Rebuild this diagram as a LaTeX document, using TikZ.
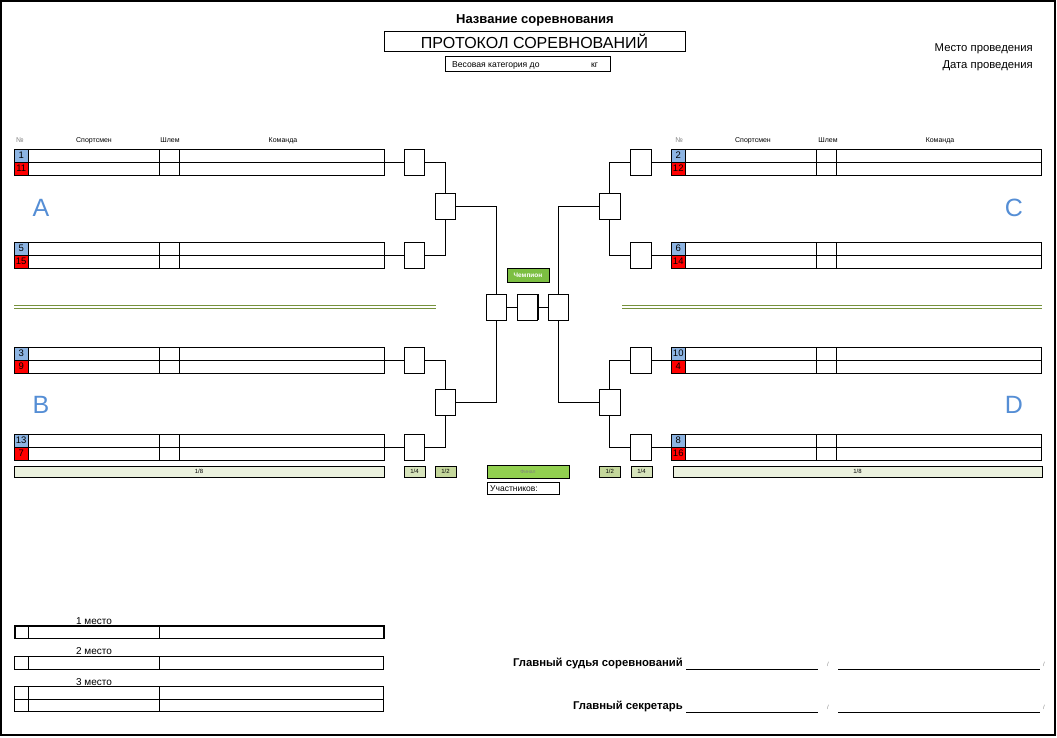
\documentclass[tikz,border=0pt]{standalone}
\usepackage{fontspec}
\setmainfont{Liberation Sans}
\definecolor{numblue}{HTML}{8DB4E2}
\definecolor{numred}{HTML}{FF0000}
\definecolor{grpblue}{HTML}{558ED5}
\definecolor{olive}{HTML}{76923C}
\definecolor{g18}{HTML}{EBF1DE}
\definecolor{g14}{HTML}{D7E4BC}
\definecolor{g12}{HTML}{C4D79B}
\definecolor{gfin}{HTML}{92D050}
\definecolor{gchamp}{HTML}{7CBF42}
\newcommand\fs[1]{\fontsize{#1}{#1}\selectfont}
\tikzset{
  line/.style={line width=1pt},
  frame/.style={draw, line width=1pt, inner sep=0pt, outer sep=0pt},
  mbox/.style={frame, fill=white, minimum width=20.5pt, minimum height=26pt, anchor=north west},
  numcell/.style={frame, minimum width=14.5pt, minimum height=13pt, font=\fs{9.5}},
  hdr/.style={inner sep=0pt, anchor=base, font=\fs{7}},
  grp/.style={inner sep=0pt, text=grpblue, font=\fs{25}},
  stagebar/.style={frame, anchor=north west, minimum height=11.5pt, font=\fs{6}},
  txt/.style={inner sep=0pt},
  sigline/.style={line width=0.8pt},
}
\newcommand\pairrow[5]{%
  \node[frame, anchor=north west, minimum width=370pt, minimum height=26pt] (#1) at (#2,#3) {};
  \draw[line] (#1.west) -- (#1.east);
  \draw[line] (#2+145.5,#3) -- (#2+145.5,#3+26);
  \draw[line] (#2+165.5,#3) -- (#2+165.5,#3+26);
  \node[numcell, fill=numblue, anchor=north west] (#1a) at (#2,#3) {#4};
  \node[numcell, fill=numred, anchor=north west] (#1b) at (#2,#3+13) {#5};
}
\newcommand\podrow[3]{% name, y, line width
  \node[draw, line width=#3, inner sep=0pt, anchor=north west, minimum width=369pt, minimum height=12.5pt] (#1) at (14,#2) {};
  \draw[line] (28,#2) -- (28,#2+12.5);
  \draw[line] (159,#2) -- (159,#2+12.5);
}
\begin{document}
\begin{tikzpicture}[x=1pt,y=-1pt]
\useasboundingbox (0,0) rectangle (1057,737);
\draw[line width=1.3pt] (1,1) rectangle (1055,735);

% titles
\node[txt, font=\bfseries\fs{13}] (title) at (535,20.5) {Название соревнования};
\node[frame, minimum width=301pt, minimum height=20pt, font=\fs{16}] (proto) at (534.5,41) {ПРОТОКОЛ СОРЕВНОВАНИЙ};
\node[frame, minimum width=165pt, minimum height=15pt] (weight) at (527.5,63.5) {};
\node[txt, font=\fs{8.6}, anchor=west] (wtxt) at (452,65) {Весовая категория до};
\node[txt, font=\fs{8.6}, anchor=west] (kg) at (591,65) {кг};
\node[txt, font=\fs{11.3}, anchor=east] (place) at (1033,48.5) {Место проведения};
\node[txt, font=\fs{11.3}, anchor=east] (date) at (1033,65.5) {Дата проведения};

% headers
\node[hdr, text=gray] (hLn) at (20,142) {№};
\node[hdr] (hLs) at (94,142) {Спортсмен};
\node[hdr] (hLh) at (170,142) {Шлем};
\node[hdr] (hLk) at (283,142) {Команда};
\node[hdr, text=gray] (hRn) at (679,142) {№};
\node[hdr] (hRs) at (753,142) {Спортсмен};
\node[hdr] (hRh) at (828,142) {Шлем};
\node[hdr] (hRk) at (940,142) {Команда};

% rows
\pairrow{A1}{14}{149}{1}{11}
\pairrow{A2}{14}{242}{5}{15}
\pairrow{B1}{14}{347}{3}{9}
\pairrow{B2}{14}{434}{13}{7}
\pairrow{C1}{671}{149}{2}{12}
\pairrow{C2}{671}{242}{6}{14}
\pairrow{D1}{671}{347}{10}{4}
\pairrow{D2}{671}{434}{8}{16}

% group letters
\node[grp] (gA) at (41,208) {A};
\node[grp] (gB) at (41,405) {B};
\node[grp] (gC) at (1014,208) {C};
\node[grp] (gD) at (1014,405) {D};

% green separators
\draw[olive, line width=1.1pt] (14,305.8) -- (436,305.8) (14,308.6) -- (436,308.6);
\draw[olive, line width=1.1pt] (622,305.8) -- (1042,305.8) (622,308.6) -- (1042,308.6);

% quarter boxes
\node[mbox] (qA1) at (404,149) {};
\node[mbox] (qA2) at (404,242) {};
\node[mbox] (qB1) at (404,347) {};
\node[mbox] (qB2) at (404,434) {};
\node[mbox] (qC1) at (630.5,149) {};
\node[mbox] (qC2) at (630.5,242) {};
\node[mbox] (qD1) at (630.5,347) {};
\node[mbox] (qD2) at (630.5,434) {};
% semi boxes
\node[mbox] (sA) at (435,193) {};
\node[mbox] (sB) at (435,389) {};
\node[mbox] (sC) at (599.5,193) {};
\node[mbox] (sD) at (599.5,389) {};
% final boxes
\node[mbox] (fL) at (486,294) {};
\node[mbox] (fM) at (517,294) {};
\node[mbox] (fR) at (548,294) {};
\draw[line width=2pt] (fM.north east) -- (fM.south east);

% connectors
\foreach \r in {A1,A2,B1,B2}{\draw[line] (\r.east) -- (q\r.west);}
\foreach \r in {C1,C2,D1,D2}{\draw[line] (\r.west) -- (q\r.east);}
\draw[line] (qA1.east) -| (sA.north);
\draw[line] (qA2.east) -| (sA.south);
\draw[line] (qB1.east) -| (sB.north);
\draw[line] (qB2.east) -| (sB.south);
\draw[line] (qC1.west) -| (sC.north);
\draw[line] (qC2.west) -| (sC.south);
\draw[line] (qD1.west) -| (sD.north);
\draw[line] (qD2.west) -| (sD.south);
\draw[line] (sA.east) -| (fL.north);
\draw[line] (sB.east) -| (fL.south);
\draw[line] (sC.west) -| (fR.north);
\draw[line] (sD.west) -| (fR.south);
\draw[line] (fL.east) -- (fM.west);
\draw[line] (fM.east) -- (fR.west);

% champion
\node[frame, fill=gchamp, minimum width=42pt, minimum height=14pt, text=white, font=\bfseries\fs{6.5}] (champ) at (528,275) {Чемпион};

% stage bars
\node[stagebar, fill=g18, minimum width=370pt] (L18) at (14,466) {1/8};
\node[stagebar, fill=g14, minimum width=21pt] (L14) at (404,466) {1/4};
\node[stagebar, fill=g12, minimum width=21pt] (L12) at (435,466) {1/2};
\node[stagebar, fill=gfin, minimum width=82pt, minimum height=12.5pt, text=gray, font=\fs{5}] (fin) at (487,465.5) {Финал};
\node[stagebar, fill=g12, minimum width=20.5pt] (R12) at (599.5,466) {1/2};
\node[stagebar, fill=g14, minimum width=21pt] (R14) at (631,466) {1/4};
\node[stagebar, fill=g18, minimum width=369pt] (R18) at (673,466) {1/8};
\node[frame, anchor=north west, minimum width=72pt, minimum height=12pt] (part) at (487,482) {};
\node[txt, anchor=west, font=\fs{8.5}] (parttxt) at (490,489) {Участников:};

% podium
\node[txt, font=\fs{10}] (p1) at (94,621) {1 место};
\podrow{P1}{625}{1.8pt}
\node[txt, font=\fs{10}] (p2) at (94,651) {2 место};
\podrow{P2}{656}{1pt}
\node[txt, font=\fs{10}] (p3) at (94,682) {3 место};
\podrow{P3a}{686}{1pt}
\podrow{P3b}{698.5}{1pt}

% signatures
\node[txt, anchor=east, font=\bfseries\fs{11.3}] (judge) at (683,663.5) {Главный судья соревнований};
\coordinate (j1s) at (686,669); \coordinate (j1e) at (818,669);
\coordinate (j2s) at (838,669); \coordinate (j2e) at (1040,669);
\draw[sigline] (j1s) -- (j1e);
\draw[sigline] (j2s) -- (j2e);
\node[txt, font=\fs{6}, text=gray] (js1) at (828,664) {/};
\node[txt, font=\fs{6}, text=gray] (js2) at (1044,664) {/};
\node[txt, anchor=east, font=\bfseries\fs{11.3}] (secr) at (683,706.5) {Главный секретарь};
\coordinate (s1s) at (686,712); \coordinate (s1e) at (818,712);
\coordinate (s2s) at (838,712); \coordinate (s2e) at (1040,712);
\draw[sigline] (s1s) -- (s1e);
\draw[sigline] (s2s) -- (s2e);
\node[txt, font=\fs{6}, text=gray] (ss1) at (828,707) {/};
\node[txt, font=\fs{6}, text=gray] (ss2) at (1044,707) {/};
\end{tikzpicture}
\end{document}
